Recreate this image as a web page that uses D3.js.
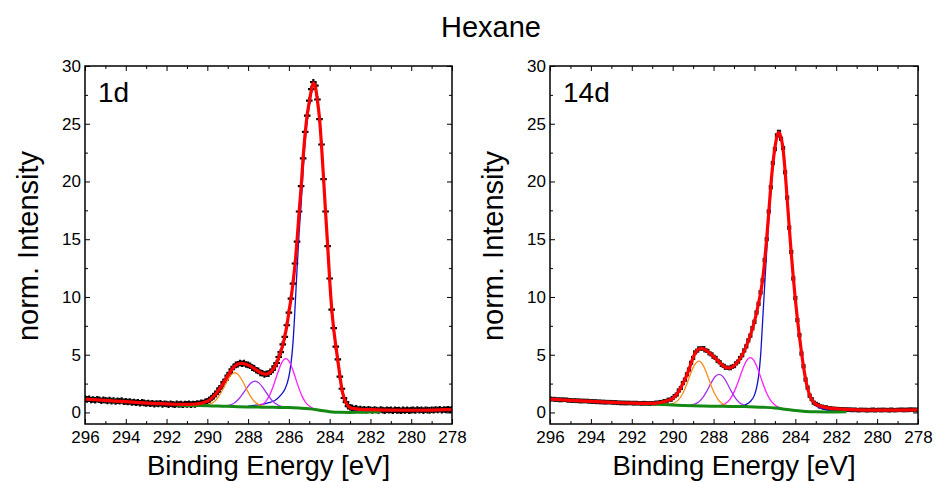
<!DOCTYPE html>
<html>
<head>
<meta charset="utf-8">
<script src="https://cdnjs.cloudflare.com/ajax/libs/d3/7.8.5/d3.min.js"></script>
<style>
  body { margin: 0; background: #fff; }
  text { font-family: "Liberation Sans", Arial, sans-serif; }
</style>
</head>
<body>
<div id="chart"></div>
<script>
// C 1s spectra, Hexane, 1 day and 14 days
// measured points, 0.1 eV step from 296 down to 278 eV
var energies = d3.range(0, 181).map(i => +(296 - i * 0.1).toFixed(1));

var data1d = [
  1.2,1.13,1.18,1.08,1.12,1.05,1.15,1.1,1.02,1.09,1.06,
  1.0,1.07,0.98,1.04,0.95,1.02,0.97,1.03,0.92,0.96,
  0.9,0.95,0.86,0.91,0.84,0.89,0.8,0.87,0.83,0.78,
  0.82,0.76,0.8,0.72,0.78,0.74,0.79,0.7,0.76,0.73,
  0.68,0.75,0.71,0.66,0.74,0.69,0.72,0.67,0.73,0.7,
  0.74,0.68,0.73,0.7,0.77,0.75,0.83,0.82,0.93,0.97,
  1.1,1.25,1.38,1.62,1.78,2.08,2.27,2.62,2.85,3.2,
  3.42,3.74,3.95,4.12,4.18,4.28,4.22,4.27,4.15,4.12,
  4.05,3.88,3.83,3.65,3.6,3.43,3.4,3.3,3.35,3.36,
  3.52,3.68,4.0,4.28,4.8,5.22,5.9,6.55,7.55,8.65,
  9.85,11.15,12.9,14.8,17.4,19.6,22.0,24.3,25.7,27.0,
  28.0,28.6,28.3,27.1,25.4,23.2,20.2,17.4,14.4,11.6,
  8.9,7.3,5.7,4.6,3.1,2.05,1.25,0.9,0.55,0.45,
  0.4,0.3,0.35,0.26,0.3,0.22,0.28,0.2,0.27,0.23,
  0.18,0.26,0.21,0.17,0.25,0.2,0.16,0.24,0.19,0.22,
  0.15,0.23,0.18,0.2,0.14,0.22,0.17,0.24,0.16,0.2,
  0.22,0.17,0.25,0.19,0.23,0.16,0.24,0.2,0.18,0.23,
  0.2,0.26,0.21,0.27,0.19,0.25,0.22,0.28,0.24,0.27
];

var data14d = [
  1.2,1.12,1.17,1.09,1.14,1.06,1.13,1.08,1.11,1.02,1.07,
  1.0,1.06,0.99,1.04,0.96,1.02,0.97,1.01,0.94,0.98,
  0.92,0.97,0.9,0.95,0.88,0.93,0.86,0.91,0.87,0.9,
  0.84,0.89,0.82,0.86,0.8,0.85,0.79,0.84,0.8,0.83,
  0.77,0.83,0.78,0.81,0.76,0.82,0.77,0.8,0.75,0.81,
  0.78,0.85,0.82,0.9,0.88,0.98,0.97,1.1,1.1,1.25,
  1.42,1.55,1.9,2.12,2.55,2.84,3.3,3.72,4.3,4.72,
  5.2,5.35,5.55,5.52,5.57,5.38,5.33,5.12,5.03,4.82,
  4.72,4.47,4.35,4.12,4.03,3.87,3.88,3.83,3.96,4.02,
  4.25,4.4,4.72,4.95,5.37,5.72,6.24,6.65,7.3,7.85,
  8.65,9.4,10.4,11.45,13.2,15.0,17.4,19.5,21.6,22.8,
  24.0,24.3,23.7,22.9,20.8,18.6,16.0,13.9,11.6,9.9,
  8.0,6.7,5.1,4.0,2.85,2.15,1.45,1.15,0.85,0.74,
  0.65,0.52,0.5,0.42,0.44,0.36,0.37,0.3,0.33,0.28,
  0.3,0.26,0.29,0.23,0.27,0.22,0.26,0.2,0.25,0.21,
  0.18,0.24,0.2,0.23,0.17,0.22,0.19,0.25,0.18,0.21,
  0.23,0.18,0.24,0.2,0.22,0.17,0.25,0.2,0.19,0.23,
  0.21,0.25,0.19,0.24,0.2,0.26,0.22,0.25,0.21,0.24
];

// fit envelopes [eV, intensity]
var fit1d = [[296,1.15],[295.5,1.1],[295,1.04],[294.5,0.98],[294,0.93],[293.5,0.87],[293,0.81],[292.5,0.77],[292,0.74],[291.5,0.71],[291,0.7],[290.7,0.71],[290.5,0.74],[290.3,0.8],[290.1,0.9],[289.9,1.08],[289.8,1.22],[289.7,1.4],[289.6,1.58],[289.5,1.8],[289.4,2.04],[289.3,2.3],[289.2,2.58],[289.1,2.88],[289,3.16],[288.9,3.45],[288.8,3.7],[288.7,3.92],[288.6,4.08],[288.5,4.2],[288.4,4.24],[288.3,4.25],[288.2,4.22],[288.1,4.18],[288,4.1],[287.9,4.02],[287.8,3.92],[287.7,3.8],[287.6,3.68],[287.5,3.56],[287.4,3.46],[287.3,3.38],[287.2,3.33],[287.1,3.32],[287,3.38],[286.9,3.5],[286.8,3.7],[286.7,3.95],[286.6,4.3],[286.5,4.75],[286.4,5.25],[286.3,5.85],[286.2,6.6],[286.1,7.5],[286,8.7],[285.9,9.8],[285.8,11.2],[285.7,12.8],[285.6,14.9],[285.5,17.3],[285.4,19.5],[285.3,22.1],[285.2,24.2],[285.1,25.8],[285,26.9],[284.9,27.9],[284.8,28.55],[284.7,28.2],[284.6,27],[284.5,25.5],[284.4,23.1],[284.3,20.3],[284.2,17.3],[284.1,14.5],[284,11.5],[283.9,9],[283.8,7.2],[283.7,5.8],[283.6,4.5],[283.5,3.2],[283.4,2],[283.3,1.3],[283.2,0.85],[283.1,0.58],[283,0.43],[282.8,0.33],[282.5,0.27],[282,0.24],[281,0.2],[280,0.19],[279,0.21],[278,0.25]];

var fit14d = [[296,1.15],[295.5,1.1],[295,1.05],[294.5,1.0],[294,0.96],[293.5,0.92],[293,0.88],[292.5,0.84],[292,0.81],[291.5,0.79],[291,0.79],[290.8,0.81],[290.6,0.86],[290.4,0.94],[290.2,1.05],[290,1.2],[289.9,1.38],[289.8,1.58],[289.7,1.85],[289.6,2.15],[289.5,2.5],[289.4,2.87],[289.3,3.27],[289.2,3.75],[289.1,4.25],[289,4.75],[288.9,5.15],[288.8,5.38],[288.7,5.5],[288.6,5.55],[288.5,5.52],[288.4,5.42],[288.3,5.3],[288.2,5.15],[288.1,5.0],[288,4.85],[287.9,4.68],[287.8,4.5],[287.7,4.32],[287.6,4.15],[287.5,4.0],[287.4,3.9],[287.3,3.85],[287.2,3.86],[287.1,3.93],[287,4.05],[286.9,4.22],[286.8,4.43],[286.7,4.68],[286.6,4.98],[286.5,5.33],[286.4,5.75],[286.3,6.2],[286.2,6.68],[286.1,7.25],[286,7.88],[285.9,8.6],[285.8,9.45],[285.7,10.35],[285.6,11.5],[285.5,13.1],[285.4,15.1],[285.3,17.3],[285.2,19.6],[285.1,21.5],[285,22.9],[284.9,23.9],[284.8,24.25],[284.7,23.8],[284.6,22.8],[284.5,20.9],[284.4,18.5],[284.3,16.1],[284.2,13.8],[284.1,11.7],[284,9.8],[283.9,8.1],[283.8,6.6],[283.7,5.2],[283.6,3.95],[283.5,2.9],[283.4,2.1],[283.3,1.5],[283.2,1.12],[283.1,0.88],[283,0.72],[282.8,0.55],[282.5,0.42],[282,0.32],[281.5,0.26],[281,0.22],[280,0.2],[279,0.21],[278,0.23]];

// Shirley-type background
var bg1d = [[291.5,0.62],[291,0.61],[290.5,0.6],[290,0.58],[289.5,0.55],[289,0.53],[288.5,0.5],[288,0.48],[287.5,0.465],[287,0.45],[286.5,0.435],[286,0.42],[285.5,0.38],[285,0.32],[284.5,0.2],[284,0.07],[283.5,0.01],[283,0.0],[282.5,0.02],[282,0.04],[281.5,0.05]];
var bg14d = [[291.5,0.78],[291,0.74],[290.5,0.69],[290,0.65],[289.5,0.61],[289,0.58],[288.5,0.56],[288,0.54],[287.5,0.53],[287,0.52],[286.5,0.51],[286,0.48],[285.5,0.44],[285,0.38],[284.5,0.28],[284,0.17],[283.5,0.09],[283,0.05],[282.5,0.04],[282,0.04],[281.5,0.05]];

// components, 1d
var cc1d = [[288,0.55],[287.5,0.65],[287.2,0.75],[287,0.85],[286.8,0.95],[286.6,1.15],[286.4,1.5],[286.2,2.0],[286,3.1],[285.9,4.2],[285.8,6.0],[285.7,9.0],[285.6,12.4],[285.5,15.5],[285.4,18.0],[285.3,21.0],[285.2,23.5],[285.1,25.3],[285,26.5],[284.9,27.6],[284.8,28.5],[284.7,28.15],[284.6,26.95],[284.5,25.4],[284.4,23.0],[284.3,20.2],[284.2,17.2],[284.1,14.4],[284,11.4],[283.9,8.9],[283.8,7.1],[283.7,5.7],[283.6,4.4],[283.5,3.1],[283.4,1.95],[283.3,1.25],[283.2,0.8],[283.1,0.5],[283,0.35],[282.8,0.2],[282.5,0.1],[282.2,0.06]];
var co1d = [[287.95,0.48],[287.75,0.51],[287.55,0.52],[287.35,0.64],[287.15,0.92],[286.95,1.48],[286.75,2.36],[286.55,3.42],[286.35,4.31],[286.15,4.66],[285.95,4.3],[285.75,3.38],[285.55,2.3],[285.35,1.39],[285.15,0.81],[284.95,0.49],[284.75,0.3],[284.55,0.2],[284.35,0.12]];
var coo1d = [[289.26,0.55],[289.06,0.57],[288.86,0.65],[288.66,0.84],[288.46,1.16],[288.26,1.62],[288.06,2.13],[287.86,2.55],[287.66,2.72],[287.46,2.54],[287.26,2.11],[287.06,1.58],[286.86,1.1],[286.66,0.77],[286.46,0.58],[286.26,0.48],[286.06,0.44]];
var ocoo1d = [[290.25,0.63],[290.05,0.66],[289.85,0.74],[289.65,0.95],[289.45,1.37],[289.25,1.97],[289.05,2.66],[288.85,3.22],[288.65,3.44],[288.45,3.21],[288.25,2.64],[288.05,1.93],[287.85,1.31],[287.65,0.88],[287.45,0.65],[287.25,0.53],[287.05,0.47]];

// components, 14d
var cc14d = [[287,0.55],[286.6,0.6],[286.4,0.7],[286.2,0.95],[286,1.5],[285.9,2.1],[285.8,3.1],[285.7,4.9],[285.6,7.9],[285.5,11.0],[285.4,14.0],[285.3,16.6],[285.2,19.0],[285.1,21.2],[285,22.7],[284.9,23.8],[284.8,24.25],[284.7,23.8],[284.6,22.8],[284.5,20.9],[284.4,18.4],[284.3,16.1],[284.2,13.8],[284.1,11.7],[284,9.8],[283.9,8.1],[283.8,6.6],[283.7,5.2],[283.6,3.95],[283.5,2.9],[283.4,2.05],[283.3,1.45],[283.2,1.05],[283.1,0.78],[283,0.6],[282.8,0.4],[282.5,0.22],[282.2,0.12],[281.8,0.07]];
var co14d = [[288,0.55],[287.8,0.57],[287.6,0.63],[287.4,0.8],[287.2,1.14],[287,1.76],[286.8,2.64],[286.6,3.63],[286.4,4.44],[286.2,4.74],[286,4.42],[285.8,3.59],[285.6,2.58],[285.4,1.67],[285.2,1.03],[285,0.65],[284.8,0.44],[284.6,0.33],[284.4,0.27],[284.2,0.2]];
var coo14d = [[289.13,0.63],[288.93,0.72],[288.73,0.91],[288.53,1.28],[288.33,1.85],[288.13,2.52],[287.93,3.09],[287.73,3.3],[287.53,3.08],[287.33,2.51],[287.13,1.82],[286.93,1.24],[286.73,0.85],[286.53,0.65],[286.33,0.54]];
var ocoo14d = [[290.32,0.71],[290.12,0.73],[289.92,0.82],[289.72,1.09],[289.52,1.6],[289.32,2.4],[289.12,3.35],[288.92,4.14],[288.72,4.45],[288.52,4.12],[288.32,3.31],[288.12,2.34],[287.92,1.53],[287.72,0.99],[287.52,0.71],[287.32,0.59],[287.12,0.54]];

var xMajor = [296, 294, 292, 290, 288, 286, 284, 282, 280, 278];
var xMinor = [295, 293, 291, 289, 287, 285, 283, 281, 279];
var yMajor = [0, 5, 10, 15, 20, 25, 30];
var yMinor = [2.5, 7.5, 12.5, 17.5, 22.5, 27.5];

var svgWidth = 936, svgHeight = 482;
var plotTop = 66, plotBottom = 424;

var svg = d3.select("#chart").append("svg")
  .attr("width", svgWidth)
  .attr("height", svgHeight);

svg.append("text")
  .attr("x", 491).attr("y", 37)
  .attr("text-anchor", "middle")
  .attr("font-size", 29)
  .text("Hexane");

function drawPanel(p) {
  var x = d3.scaleLinear().domain([296, 278]).range([p.left, p.right]);
  var y = d3.scaleLinear().domain([-1, 30]).range([plotBottom, plotTop]);
  var g = svg.append("g");

  g.append("clipPath").attr("id", "clip" + p.id)
    .append("rect")
    .attr("x", p.left).attr("y", plotTop)
    .attr("width", p.right - p.left).attr("height", plotBottom - plotTop);

  var plot = g.append("g").attr("clip-path", `url(#clip${p.id})`);
  var line = d3.line()
    .x(d => x(d[0]))
    .y(d => y(d[1]))
    .curve(d3.curveMonotoneX);

  // measured points
  var sym = d3.symbol().type(p.marker).size(p.markerSize);
  plot.selectAll(".pt")
    .data(p.data)
    .enter()
    .append("path")
    .attr("class", "pt")
    .attr("d", sym)
    .attr("transform", (d, i) => `translate(${x(energies[i])},${y(d)})`)
    .attr("fill", p.markerColor);

  // components
  p.comps.forEach(function (c) {
    plot.append("path")
      .datum(c.values)
      .attr("d", line)
      .attr("fill", "none")
      .attr("stroke", c.color)
      .attr("stroke-width", 1.3);
  });

  plot.append("path")
    .datum(p.bg)
    .attr("d", line)
    .attr("fill", "none")
    .attr("stroke", "#148a14")
    .attr("stroke-width", 3);

  plot.append("path")
    .datum(p.fit)
    .attr("d", line)
    .attr("fill", "none")
    .attr("stroke", "#ff0000")
    .attr("stroke-width", 3.2);

  // axes, ticks inside
  function styleAxis(sel) {
    sel.select(".domain").remove();
    sel.selectAll("line").attr("stroke", "#000").attr("stroke-width", 1);
    sel.selectAll("text").attr("font-size", 17).attr("fill", "#000")
      .attr("font-family", "Liberation Sans, Arial, sans-serif");
  }

  g.append("g").attr("transform", `translate(0,${plotBottom})`)
    .call(d3.axisBottom(x).tickValues(xMajor).tickSize(-5).tickPadding(7).tickFormat(d3.format("d")))
    .call(styleAxis);
  g.append("g").attr("transform", `translate(0,${plotBottom})`)
    .call(d3.axisBottom(x).tickValues(xMinor).tickSize(-3).tickFormat(""))
    .call(styleAxis);
  g.append("g").attr("transform", `translate(0,${plotTop})`)
    .call(d3.axisTop(x).tickValues(xMajor).tickSize(-5).tickFormat(""))
    .call(styleAxis);
  g.append("g").attr("transform", `translate(0,${plotTop})`)
    .call(d3.axisTop(x).tickValues(xMinor).tickSize(-3).tickFormat(""))
    .call(styleAxis);

  g.append("g").attr("transform", `translate(${p.left},0)`)
    .call(d3.axisLeft(y).tickValues(yMajor).tickSize(-5).tickPadding(4).tickFormat(d3.format("d")))
    .call(styleAxis);
  g.append("g").attr("transform", `translate(${p.left},0)`)
    .call(d3.axisLeft(y).tickValues(yMinor).tickSize(-3).tickFormat(""))
    .call(styleAxis);
  g.append("g").attr("transform", `translate(${p.right},0)`)
    .call(d3.axisRight(y).tickValues(yMajor).tickSize(-5).tickFormat(""))
    .call(styleAxis);
  g.append("g").attr("transform", `translate(${p.right},0)`)
    .call(d3.axisRight(y).tickValues(yMinor).tickSize(-3).tickFormat(""))
    .call(styleAxis);

  g.append("rect")
    .attr("x", p.left).attr("y", plotTop)
    .attr("width", p.right - p.left).attr("height", plotBottom - plotTop)
    .attr("fill", "none")
    .attr("stroke", "#000")
    .attr("stroke-width", 1.5);

  g.append("text")
    .attr("x", p.left + 13).attr("y", 102)
    .attr("font-size", 28)
    .text(p.label);

  g.append("text")
    .attr("transform", `translate(${p.left - 47},246) rotate(-90)`)
    .attr("text-anchor", "middle")
    .attr("font-size", 29)
    .text("norm. Intensity");

  g.append("text")
    .attr("x", (p.left + p.right) / 2).attr("y", 475)
    .attr("text-anchor", "middle")
    .attr("font-size", 27.5)
    .text("Binding Energy [eV]");
}

drawPanel({
  id: "a", left: 85, right: 452, label: "1d",
  data: data1d, fit: fit1d, bg: bg1d,
  marker: d3.symbolCross, markerSize: 24, markerColor: "#000",
  comps: [
    { values: cc1d, color: "#1010c8" },
    { values: co1d, color: "#ff20ff" },
    { values: coo1d, color: "#a030f0" },
    { values: ocoo1d, color: "#ff8c1a" }
  ]
});

drawPanel({
  id: "b", left: 550, right: 918, label: "14d",
  data: data14d, fit: fit14d, bg: bg14d,
  marker: d3.symbolSquare, markerSize: 18, markerColor: "#1a1a1a",
  comps: [
    { values: cc14d, color: "#1010c8" },
    { values: co14d, color: "#ff20ff" },
    { values: coo14d, color: "#a030f0" },
    { values: ocoo14d, color: "#ff8c1a" }
  ]
});
</script>
</body>
</html>
